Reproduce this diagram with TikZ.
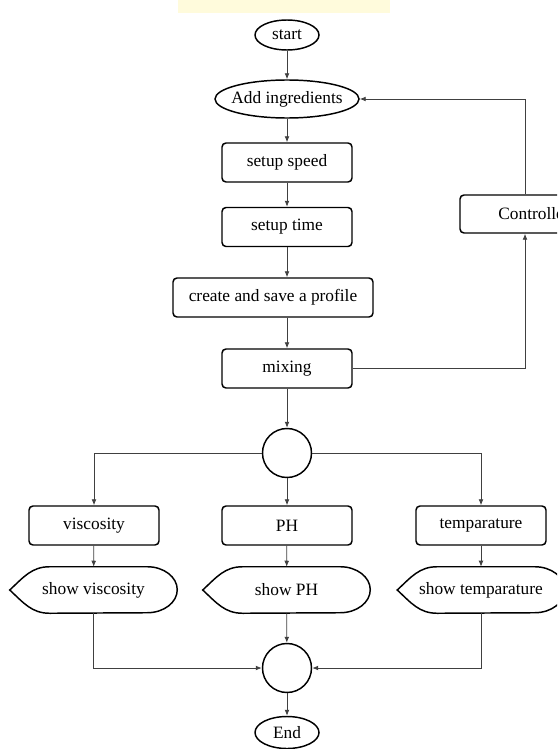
\documentclass[tikz,border=0pt]{standalone}
\usepackage{fontspec}
\setmainfont{Liberation Serif}
\usetikzlibrary{shapes.geometric,arrows.meta,calc}
\definecolor{wmyellow}{HTML}{FFFBDC}
\newcommand\dispshape[1]{%
  \draw[shp] (#1.west) .. controls ($(#1.west)+(14,13)$) and ($(#1.north west)+(22,0)$) .. ($(#1.north west)+(40,0)$)
    -- ($(#1.north east)+(-30,0)$) arc[start angle=90,end angle=-90,x radius=30,y radius=23]
    -- ($(#1.south west)+(40,0)$) .. controls ($(#1.south west)+(22,0)$) and ($(#1.west)+(14,-13)$) .. cycle;}
\begin{document}
\begin{tikzpicture}[x=0.75pt,y=0.75pt,
  font=\fontsize{13pt}{15pt}\selectfont,
  shp/.style={draw=black,line width=1.1pt},
  box/.style={shp,rectangle,rounded corners=3pt,minimum width=97.5pt,minimum height=29.25pt,inner sep=0pt},
  oval/.style={shp,ellipse,inner sep=0pt},
  circ/.style={shp,circle,minimum size=36.75pt,inner sep=0pt},
  disp/.style={rectangle,minimum width=125.25pt,minimum height=34.5pt,inner sep=0pt},
  con/.style={draw=black!75,line width=0.6pt,-{Latex[length=4.5pt,width=3.6pt]}},
]
\useasboundingbox (0,0) rectangle (557,-749);
\clip (0,0) rectangle (557,-749);
\fill[white] (0,0) rectangle (557,-749);
\fill[wmyellow] (178,0) rectangle (390,-13);

\node[oval,minimum width=48pt,minimum height=22.5pt] (start) at (287,-35) {\makebox[0pt]{start}};
\node[oval,minimum width=108pt,minimum height=28.5pt] (add) at (287,-99) {\makebox[0pt]{Add ingredients}};
\node[box] (speed) at (287,-162.5) {setup speed};
\node[box] (time) at (287,-227) {setup time};
\node[box,minimum width=150pt] (prof) at (273,-297.5) {create and save a profile};
\node[box] (mix) at (287,-368.5) {mixing};
\node[circ] (c1) at (287,-453) {};
\node[box] (visc) at (94,-525.5) {viscosity};
\node[box] (ph) at (287,-525.5) {PH};
\node[box] (temp) at (481,-525.5) {temparature};
\node[disp] (sv) at (93.5,-590) {show viscosity};
\node[disp] (sp) at (286.5,-590) {show PH};
\node[disp] (st) at (481,-590) {show temparature};
\node[circ] (c2) at (287,-668) {};
\node[oval,minimum width=48pt,minimum height=24pt] (end) at (287,-732.5) {\makebox[0pt]{End}};
\node[box,minimum width=111pt,minimum height=28.5pt] (ctrl) at (534,-214) {Controller};

\dispshape{sv}
\dispshape{sp}
\dispshape{st}

\draw[con] (start) -- (add);
\draw[con] (add) -- (speed);
\draw[con] (speed) -- (time);
\draw[con] (time.south) -- (time.south |- prof.north);
\draw[con] (mix.north |- prof.south) -- (mix.north);
\draw[con] (mix) -- (c1);
\draw[con] (c1.west) -| (visc.north);
\draw[con] (c1) -- (ph);
\draw[con] (c1.east) -| (temp.north);
\draw[con] (visc) -- (sv);
\draw[con] (ph) -- (sp);
\draw[con] (temp) -- (st);
\draw[con] (sv.south) |- (c2.west);
\draw[con] (sp) -- (c2);
\draw[con] (st.south) |- (c2.east);
\draw[con] (c2) -- (end);
\draw[con] (mix.east) -| ([xshift=-6.75pt]ctrl.south);
\draw[con] ([xshift=-6.75pt]ctrl.north) |- (add.east);
\end{tikzpicture}
\end{document}
